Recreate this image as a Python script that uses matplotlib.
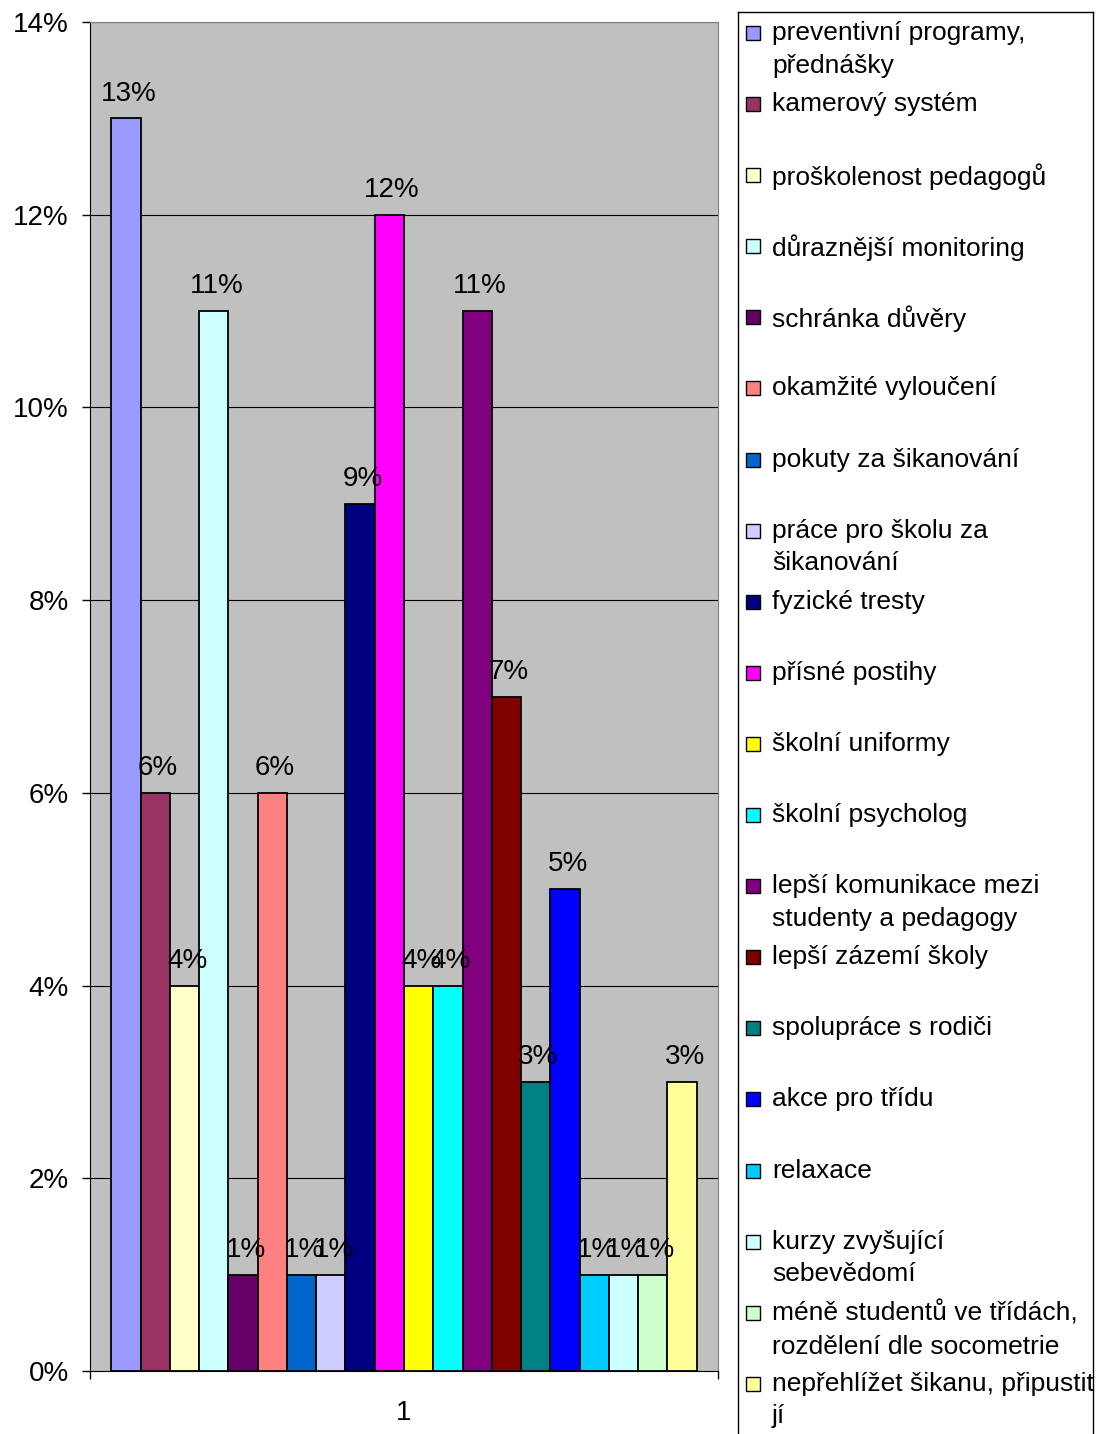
import matplotlib.pyplot as plt
from matplotlib.patches import Rectangle
from matplotlib.ticker import FuncFormatter

plt.rcParams['font.family'] = ['Liberation Sans', 'DejaVu Sans']

labels = ['preventivní programy,\npřednášky', 'kamerový systém', 'proškolenost pedagogů',
          'důraznější monitoring', 'schránka důvěry', 'okamžité vyloučení',
          'pokuty za šikanování', 'práce pro školu za\nšikanování', 'fyzické tresty',
          'přísné postihy', 'školní uniformy', 'školní psycholog',
          'lepší komunikace mezi\nstudenty a pedagogy', 'lepší zázemí školy',
          'spolupráce s rodiči', 'akce pro třídu', 'relaxace',
          'kurzy zvyšující\nsebevědomí', 'méně studentů ve třídách,\nrozdělení dle socometrie',
          'nepřehlížet šikanu, připustit\njí']
values = [13, 6, 4, 11, 1, 6, 1, 1, 9, 12, 4, 4, 11, 7, 3, 5, 1, 1, 1, 3]
colors = ['#9999FF', '#993366', '#FFFFCC', '#CCFFFF', '#660066', '#FF8080',
          '#0066CC', '#CCCCFF', '#000080', '#FF00FF', '#FFFF00', '#00FFFF',
          '#800080', '#800000', '#008080', '#0000FF', '#00CCFF', '#CCFFFF',
          '#CCFFCC', '#FFFF99']
yticks = [0, 2, 4, 6, 8, 10, 12, 14]

W, H = 1097, 1434
FS = 19      # legend text
NFS = 20     # numbers (ticks, data labels)
fig = plt.figure(figsize=(W / 100, H / 100), dpi=100)

# plot area in pixels
x0, x1, ytop, ybot = 89.5, 718.5, 22, 1371
ax = fig.add_axes([x0 / W, (H - ybot) / H, (x1 - x0) / W, (ybot - ytop) / H])
ax.set_facecolor('#C0C0C0')
n = len(values)
xs = list(range(n))
ax.bar(xs, values, width=1.0, color=colors, edgecolor='black', linewidth=1.3, zorder=3)
for x, v in zip(xs, values):
    ax.annotate(f'{v}%', (x, v), xytext=(2, 8.5), textcoords='offset points',
                ha='center', va='bottom', fontsize=NFS, zorder=4)
ax.set_xlim(-1.25, n - 1 + 1.25)
ax.set_ylim(0, 14)
ax.set_yticks(yticks)
ax.yaxis.set_major_formatter(FuncFormatter(lambda v, p: f'{int(v)}%'))
ax.yaxis.grid(True, color='black', linewidth=0.8, zorder=1)
ax.tick_params(axis='y', length=6, width=1, labelsize=NFS, pad=9)
ax.set_xticks([ax.get_xlim()[0], ax.get_xlim()[1]])
ax.set_xticklabels(['', ''])
ax.tick_params(axis='x', length=6, width=1, direction='out')
ax.annotate('1', (0.5, 0), xycoords='axes fraction', xytext=(0, -30),
            textcoords='offset points', ha='center', va='center', fontsize=NFS)
for s in ['top', 'right']:
    ax.spines[s].set_color('#808080')
for s in ['left', 'bottom']:
    ax.spines[s].set_color('black')

# legend box
lx0, lx1, ly0 = 738, 1093, 12
lax = fig.add_axes([lx0 / W, 0, (lx1 - lx0) / W, (H - ly0) / H])
lax.set_xlim(lx0, lx1)
lax.set_ylim(H, ly0)
lax.set_xticks([])
lax.set_yticks([])
lax.spines['bottom'].set_visible(False)
for s in ['left', 'top', 'right']:
    lax.spines[s].set_linewidth(1)
first, step = 33, 71.1
for i, (lab, c) in enumerate(zip(labels, colors)):
    yc = first + i * step
    lax.add_patch(Rectangle((746, yc - 7), 14, 14, facecolor=c, edgecolor='black', linewidth=1))
    lax.text(772, yc - 12, lab, va='top', ha='left', fontsize=FS, linespacing=1.45,
             clip_on=False)

fig.savefig('out.png', dpi=100)
